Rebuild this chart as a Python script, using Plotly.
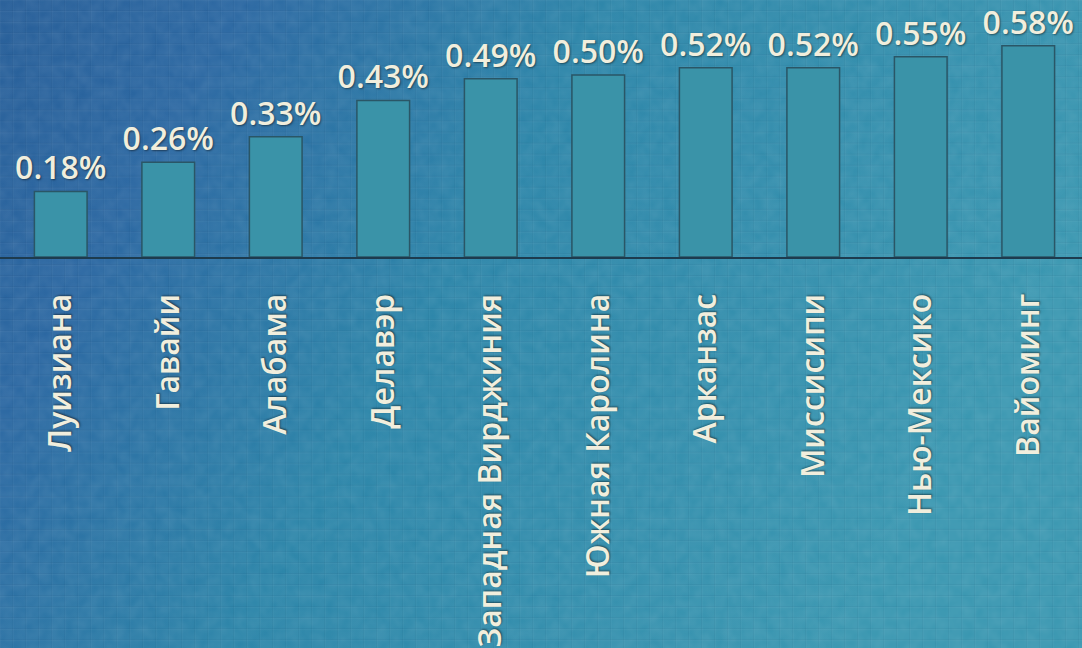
import base64
import plotly.graph_objects as go

states = ["Луизиана", "Гавайи", "Алабама", "Делавэр", "Западная Вирджиния",
          "Южная Каролина", "Арканзас", "Миссисипи", "Нью-Мексико", "Вайоминг"]
values = [0.18, 0.26, 0.33, 0.43, 0.49, 0.50, 0.52, 0.52, 0.55, 0.58]
labels = ["0.18%", "0.26%", "0.33%", "0.43%", "0.49%", "0.50%", "0.52%", "0.52%", "0.55%", "0.58%"]

svg = """<svg xmlns='http://www.w3.org/2000/svg' width='1082' height='648' viewBox='0 0 1082 648' preserveAspectRatio='none'>
<defs>
<linearGradient id='g' x1='0' y1='0' x2='1' y2='0.35'>
<stop offset='0' stop-color='#245c97'/>
<stop offset='0.2' stop-color='#2966a1'/>
<stop offset='0.5' stop-color='#2a84a8'/>
<stop offset='1' stop-color='#3896b0'/>
</linearGradient>
<pattern id='p' width='13' height='11' patternUnits='userSpaceOnUse'>
<rect x='0' y='0' width='13' height='1' fill='rgba(255,255,255,0.035)'/>
<rect x='0' y='0' width='1' height='11' fill='rgba(255,255,255,0.025)'/>
<rect x='0' y='10' width='13' height='1' fill='rgba(0,20,50,0.05)'/>
<rect x='12' y='0' width='1' height='11' fill='rgba(0,20,50,0.04)'/>
</pattern>
<filter id='t'>
<feTurbulence type='fractalNoise' baseFrequency='0.08' numOctaves='2' seed='5'/>
<feColorMatrix type='matrix' values='0 0 0 0 1  0 0 0 0 1  0 0 0 0 1  0 0 0 0.10 0'/>
</filter>
</defs>
<rect width='1082' height='648' fill='url(#g)'/>
<rect width='1082' height='648' fill='url(#p)'/>
<rect width='1082' height='648' filter='url(#t)'/>
</svg>"""
bg_src = "data:image/svg+xml;base64," + base64.b64encode(svg.encode("utf-8")).decode("ascii")

cream = "#f1eedd"
shadow = "1px 1px 2px rgba(0,0,0,0.45)"

fig = go.Figure(go.Bar(
    x=states, y=values, text=labels, textposition="outside", constraintext="none",
    textfont=dict(family="Open Sans", size=32, weight=600, color=cream, shadow=shadow),
    marker=dict(color="#3a93a8", line=dict(color="#2a5666", width=1.5)),
    cliponaxis=False,
))

fig.update_layout(
    width=1082, height=648,
    margin=dict(l=0, r=0, t=0, b=391),
    paper_bgcolor="#2a78a3", plot_bgcolor="rgba(0,0,0,0)",
    bargap=0.51, showlegend=False,
    images=[dict(source=bg_src, xref="paper", yref="paper", x=0, y=1.0,
                 xanchor="left", yanchor="top", sizex=1.0, sizey=2.53,
                 sizing="stretch", layer="below")],
    xaxis=dict(range=[-0.565, 9.5], tickangle=-90, ticklabelstandoff=22, showgrid=False,
               automargin=False, showline=True, linecolor="#1d3b4e", linewidth=2,
               tickfont=dict(family="Open Sans", size=32, weight=600, color=cream, shadow=shadow)),
    yaxis=dict(range=[0, 0.706], visible=False, showgrid=False, zeroline=False, automargin=False),
)

fig.write_html("out.html", config={"displayModeBar": False},
               post_script="document.body.style.margin='0';document.body.style.overflow='hidden';")
